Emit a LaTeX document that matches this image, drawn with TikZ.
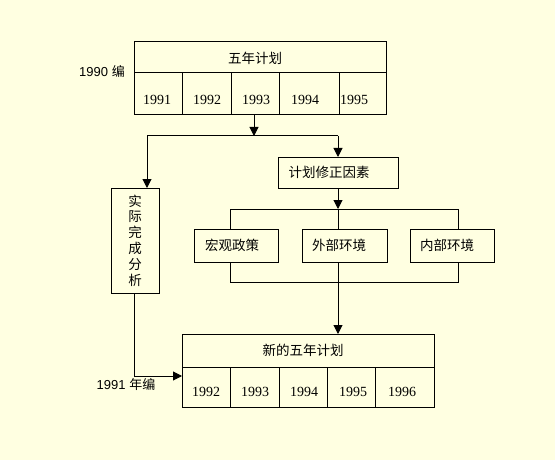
\documentclass[tikz,border=0pt]{standalone}
\usepackage{fontspec}
\setmainfont{Liberation Serif}
\newfontfamily\cjk{Noto Sans CJK SC}
\newfontfamily\lab{Liberation Sans}
\usetikzlibrary{arrows.meta}
\definecolor{bg}{RGB}{255,255,225}
\begin{document}
\begin{tikzpicture}[x=1pt,y=-1pt,
  every node/.style={inner sep=0pt,outer sep=0pt},
  cell/.style={draw,line width=1pt,minimum width=#1},
  ln/.style={line width=1pt},
  arr/.style={line width=1pt,-{Triangle[width=9pt,length=9pt]}},
  num/.style={font=\fontsize{14}{14}\selectfont},
  zh/.style={font=\cjk\fontsize{13.5}{14.5}\selectfont},
  lb/.style={font=\lab\fontsize{13}{13}\selectfont}]
\fill[bg] (0,0) rectangle (555,460);
\useasboundingbox (0,0) rectangle (555,460);
% top plan
\node[cell=252,minimum height=31] (ptitle) at (260,57.5) {};
\node[zh] (ptitletext) at (255,58) {五年计划};
\node[cell=48,minimum height=42] (p1) at (158,94) {};
\node[cell=49,minimum height=42] (p2) at (206.5,94) {};
\node[cell=48,minimum height=42] (p3) at (255,94) {};
\node[cell=60,minimum height=42] (p4) at (309,94) {};
\node[cell=47,minimum height=42] (p5) at (362.5,94) {};
\node[num] at (157,100) {1991};
\node[num] at (207,100) {1992};
\node[num] at (256,100) {1993};
\node[num] at (305,100) {1994};
\node[num] at (354,100) {1995};
\node[lb] (l1990) at (102,71) {1990 \cjk 编};
% actual analysis
\node[cell=48,minimum height=105,zh,align=center] (actual) at (135,240.5)
  {\shortstack{实\\[0.5pt]际\\[0.5pt]完\\[0.5pt]成\\[0.5pt]分\\[0.5pt]析}};
% fix factors
\node[cell=120,minimum height=31] (fix) at (338,172.5) {};
\node[zh] at (329,172) {计划修正因素};
\node[cell=84,minimum height=33] (macro) at (236,245.5) {};
\node[zh] at (232,245) {宏观政策};
\node[cell=85,minimum height=33] (ext) at (344.5,245.5) {};
\node[zh] at (339,245) {外部环境};
\node[cell=84,minimum height=33] (int) at (452,245.5) {};
\node[zh] at (447,245) {内部环境};
% new plan
\node[cell=252,minimum height=33] (ntitle) at (308,350.5) {};
\node[zh] at (303,350) {新的五年计划};
\node[cell=48,minimum height=40] (n1) at (206,387) {};
\node[cell=49,minimum height=40] (n2) at (254.5,387) {};
\node[cell=48,minimum height=40] (n3) at (303,387) {};
\node[cell=48,minimum height=40] (n4) at (351,387) {};
\node[cell=59,minimum height=40] (n5) at (404.5,387) {};
\node[num] at (206,392) {1992};
\node[num] at (255,392) {1993};
\node[num] at (304,392) {1994};
\node[num] at (353,392) {1995};
\node[num] at (402,392) {1996};
\node[lb] (l1991) at (126,385) {1991 \cjk 年编};
% connectors
\coordinate (j1) at (254,136);
\coordinate (a1) at (147,136);
\coordinate (b1) at (230,209);
\coordinate (b2) at (458,209);
\coordinate (b0) at (338,209);
\coordinate (c1) at (230,282);
\coordinate (c2) at (458,282);
\coordinate (c0) at (338,282);
\coordinate (d1) at (134,376);
\draw[arr] (p3.south -| j1) -- (j1);
\draw[ln] (a1) -- (fix.north |- a1);
\draw[arr] (a1) -- (a1 |- actual.north);
\draw[arr] (fix.north |- a1) -- (fix.north);
\draw[arr] (fix.south) -- (b0);
\draw[ln] (b1) -- (b2);
\draw[ln] (b1) -- (b1 |- macro.north);
\draw[ln] (b0) -- (b0 |- ext.north);
\draw[ln] (b2) -- (b2 |- int.north);
\draw[ln] (b1 |- macro.south) -- (c1) -- (c2) -- (b2 |- int.south);
\draw[ln] (b0 |- ext.south) -- (c0);
\draw[arr] (c0) -- (c0 |- ntitle.north);
\draw[arr] (d1 |- actual.south) -- (d1) -- (d1 -| n1.west);
\end{tikzpicture}
\end{document}
